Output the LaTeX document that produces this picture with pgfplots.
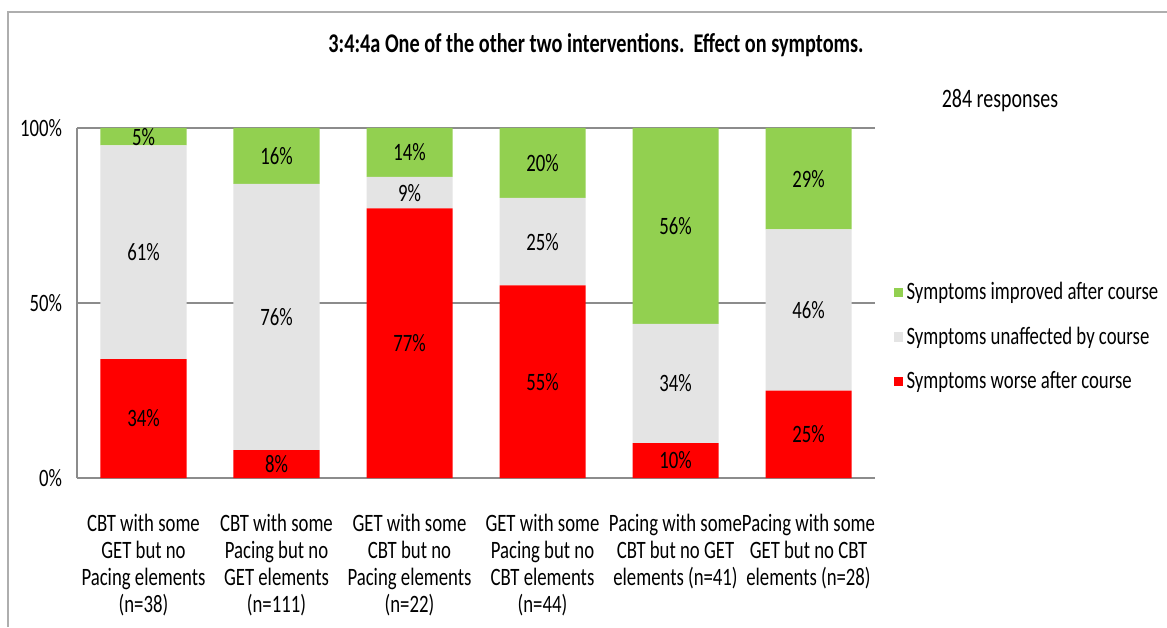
\documentclass[border=0pt]{standalone}
\usepackage{pgfplots}
\pgfplotsset{compat=1.18}
\usepackage{pgfplotstable}
\usepackage{fontspec}
\setmainfont[FakeStretch=0.75]{Carlito}

\definecolor{cgreen}{HTML}{92D050}
\definecolor{cgrey}{HTML}{E4E4E4}
\definecolor{cred}{HTML}{FF0000}
\definecolor{cline}{HTML}{8C8C8C}

\pgfplotstableread{
x red grey green
0 34 61 5
1 8 76 16
2 77 9 14
3 55 25 20
4 10 34 56
5 25 46 29
}\data

\begin{document}
\begin{tikzpicture}[font=\fontsize{12.5}{13.5}\selectfont]
\path[use as bounding box] (0,0) rectangle (583.5pt,313.5pt);
\draw[cline!70, line width=0.8pt] (4pt,0) -- (4pt,307.5pt) -- (583.5pt,307.5pt);
\node[font=\fontsize{13.5}{15}\selectfont\bfseries] at (298pt,291pt) {3:4:4a One of the other two interventions.\ \ Effect on symptoms.};
\node[font=\fontsize{13.3}{15}\selectfont] at (500pt,263pt) {284 responses};
\begin{axis}[
  scale only axis, width=399pt, height=175pt,
  at={(38.5pt,74.5pt)}, anchor=south west,
  ybar stacked, bar width=43pt,
  xmin=-0.5, xmax=5.5, ymin=0, ymax=100,
  axis x line*=bottom, axis y line*=left,
  axis line style={cline, -, line width=0.8pt},
  ymajorgrids, grid style={cline, line width=0.6pt},
  ytick={0,50,100}, yticklabels={0\%,50\%,100\%},
  xtick={0,1,2,3,4,5},
  xticklabels={{CBT with some\\GET but no\\Pacing elements\\(n=38)},
               {CBT with some\\Pacing but no\\GET elements\\(n=111)},
               {GET with some\\CBT but no\\Pacing elements\\(n=22)},
               {GET with some\\Pacing but no\\CBT elements\\(n=44)},
               {Pacing with some\\CBT but no GET\\elements (n=41)},
               {Pacing with some\\GET but no CBT\\elements (n=28)}},
  xticklabel style={align=center, yshift=-14.5pt},
  yticklabel style={xshift=-4pt},
  major tick length=0pt,
  legend style={draw=none, fill=none, at={(1.023,0.403)}, anchor=west,
    row sep=8pt, font=\fontsize{12.5}{13.5}\selectfont, inner sep=0pt},
  legend cell align=left,
  reverse legend,
  legend image code/.code={\fill[#1] (0pt,-2.3pt) rectangle (4.4pt,2.3pt);},
]
\addplot[fill=cred, draw=none] table[x=x, y=red] {\data};
\addplot[fill=cgrey, draw=none] table[x=x, y=grey] {\data};
\addplot[fill=cgreen, draw=none] table[x=x, y=green] {\data};
\legend{Symptoms worse after course, Symptoms unaffected by course, Symptoms improved after course}
\end{axis}
\begin{axis}[
  scale only axis, width=399pt, height=175pt,
  at={(38.5pt,74.5pt)}, anchor=south west,
  xmin=-0.5, xmax=5.5, ymin=0, ymax=100,
  hide axis, clip=false,
  point meta=explicit symbolic,
  nodes near coords={\pgfplotspointmeta\%},
  every node near coord/.append style={anchor=center, inner sep=0pt, text=black},
]
\addplot[draw=none, mark=none] table[x=x, y expr=\thisrow{red}/2, meta=red] {\data};
\addplot[draw=none, mark=none] table[x=x, y expr=\thisrow{red}+\thisrow{grey}/2, meta=grey] {\data};
\addplot[draw=none, mark=none] table[x=x, y expr=\thisrow{red}+\thisrow{grey}+\thisrow{green}/2, meta=green] {\data};
\end{axis}
\end{tikzpicture}
\end{document}
